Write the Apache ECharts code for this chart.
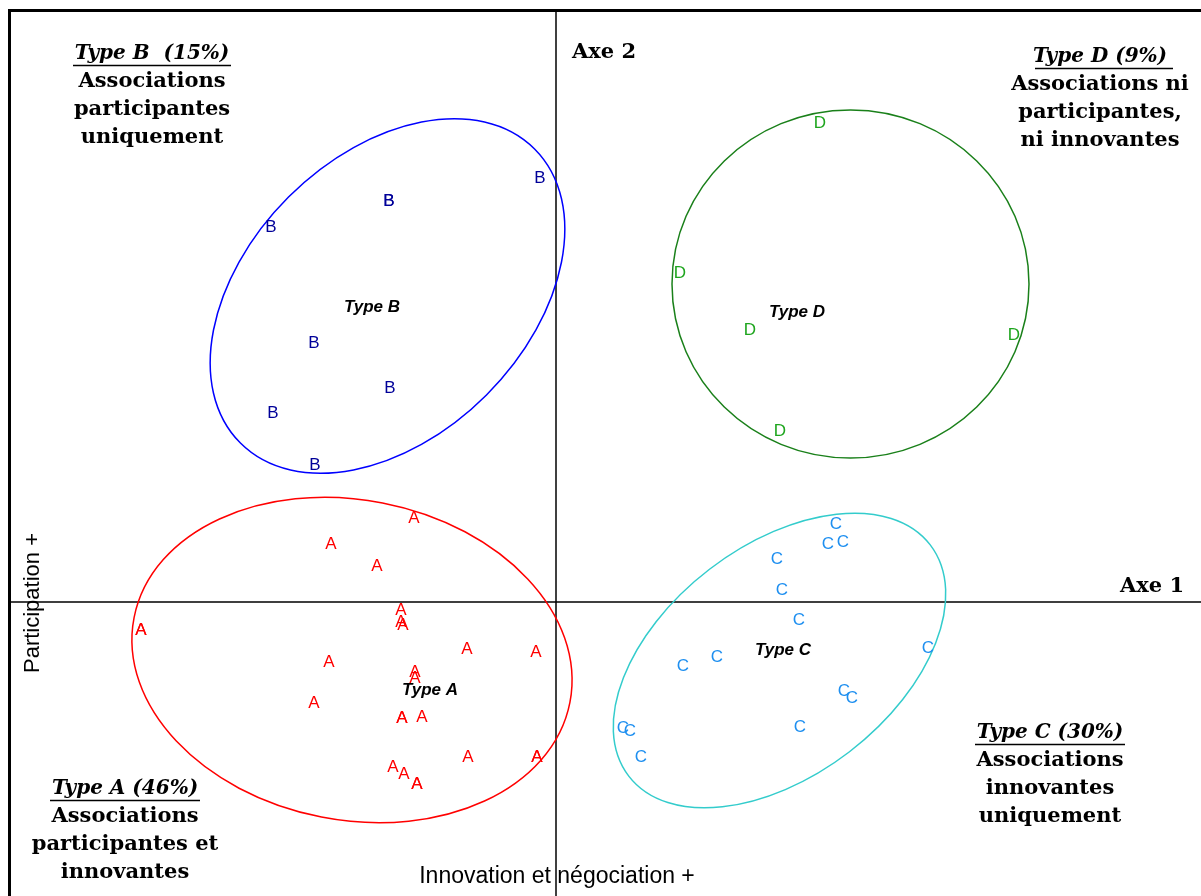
<!DOCTYPE html>
<html>
<head>
<meta charset="utf-8">
<script src="https://cdn.jsdelivr.net/npm/echarts@6/dist/echarts.min.js"></script>
<style>
  html, body { margin: 0; padding: 0; background: #fff; }
  #chart { width: 1201px; height: 896px; }
</style>
</head>
<body>
<div id="chart"></div>
<script>
// coordonnées des associations sur les axes factoriels (Axe 1, Axe 2)
const typeAX = [-1.42, -2.25, -1.79, -1.55, -1.55, -1.53, -4.15, -4.15, -2.27, -0.89, -0.20, -1.41, -1.41, -2.42, -1.54, -1.54, -1.34, -0.88, -0.19, -0.19, -1.63, -1.52, -1.39, -1.39];
const typeAY = [0.84, 0.58, 0.36, -0.08, -0.20, -0.23, -0.28, -0.28, -0.60, -0.47, -0.50, -0.70, -0.76, -1.01, -1.16, -1.16, -1.15, -1.55, -1.55, -1.55, -1.65, -1.72, -1.82, -1.82];

const typeBX = [-0.16, -1.67, -1.67, -2.85, -2.42, -1.66, -2.83, -2.41];
const typeBY = [4.24, 4.01, 4.01, 3.75, 2.59, 2.14, 1.89, 1.37];

const typeCX = [2.80, 2.72, 2.87, 2.21, 2.26, 2.43, 3.72, 1.61, 1.27, 2.88, 2.96, 2.44, 0.67, 0.74, 0.85];
const typeCY = [0.78, 0.58, 0.60, 0.43, 0.12, -0.18, -0.46, -0.55, -0.64, -0.89, -0.96, -1.25, -1.26, -1.29, -1.55];

const typeDX = [2.64, 1.24, 1.94, 4.58, 2.24];
const typeDY = [4.79, 3.29, 2.72, 2.67, 1.71];

// centres des classes
const classNames = ['Type A', 'Type B', 'Type C', 'Type D'];
const classX = [-1.26, -1.84, 2.27, 2.41];
const classY = [-0.88, 2.95, -0.48, 2.90];

// ellipses des classes : centre, demi-axes, angle (degrés)
const ellipseCx = [-2.04, -1.685, 2.235, 2.945];
const ellipseCy = [-0.58, 3.06, -0.585, 3.18];
const ellipseRx = [2.22, 2.08, 1.90, 1.785];
const ellipseRy = [1.60, 1.40, 1.15, 1.74];
const ellipseAngle = [-11, 45, 37.5, 0];

const ellipseColors = ['#ff0000', '#0000ff', '#33cccc', '#1a801a'];

function letterSeries(letter, xs, ys, color) {
  return {
    type: 'scatter',
    name: letter,
    data: xs.map((x, i) => [x, ys[i]]),
    symbolSize: 1,
    itemStyle: { color: 'rgba(0,0,0,0)', opacity: 1 },
    label: {
      show: true,
      position: 'inside',
      formatter: letter,
      color: color,
      opacity: 1,
      textBorderWidth: 0,
      fontFamily: '"Liberation Sans", Arial',
      fontSize: 17
    },
    silent: true,
    z: 3
  };
}

// textes des quadrants
function block(cx, y0, title, lines) {
  const els = [];
  els.push({
    type: 'text', x: cx, y: y0,
    style: { text: title, textAlign: 'center', textVerticalAlign: 'middle',
      font: 'italic bold 20px "DejaVu Serif"', fill: '#000' }
  });
  lines.forEach((t, i) => {
    els.push({
      type: 'text', x: cx, y: y0 + 27.7 * (i + 1),
      style: { text: t, textAlign: 'center', textVerticalAlign: 'middle',
        font: 'bold 21px "DejaVu Serif"', fill: '#000' }
    });
  });
  return els;
}

function line(x1, y1, x2, y2, w) {
  return { type: 'line', shape: { x1: x1, y1: y1, x2: x2, y2: y2 }, style: { stroke: '#000', lineWidth: w } };
}

const chart = echarts.init(document.getElementById('chart'));

chart.setOption({
  animation: false,
  backgroundColor: '#fff',
  grid: { left: 10, top: 10, right: 0, bottom: 0 },
  xAxis: {
    type: 'value', min: -5.46, max: 6.45,
    axisLine: { onZero: true, lineStyle: { color: '#000', width: 1.5 } },
    axisTick: { show: false }, axisLabel: { show: false }, splitLine: { show: false }
  },
  yAxis: {
    type: 'value', min: -2.94, max: 5.92,
    axisLine: { onZero: true, lineStyle: { color: '#000', width: 1.5 } },
    axisTick: { show: false }, axisLabel: { show: false }, splitLine: { show: false }
  },
  graphic: [
    line(8, 10.5, 1201, 10.5, 3),
    line(9.5, 9, 9.5, 896, 3),
    ...block(152, 54, 'Type B  (15%)', ['Associations', 'participantes', 'uniquement']),
    ...block(1100, 57, 'Type D (9%)', ['Associations ni', 'participantes,', 'ni innovantes']),
    ...block(1050, 733, 'Type C (30%)', ['Associations', 'innovantes', 'uniquement']),
    ...block(125, 789, 'Type A (46%)', ['Associations', 'participantes et', 'innovantes']),
    line(73, 65.5, 231, 65.5, 1.5),
    line(1035, 68.5, 1173, 68.5, 1.5),
    line(975, 744.5, 1125, 744.5, 1.5),
    line(50, 800.5, 200, 800.5, 1.5),
    { type: 'text', x: 604, y: 53, style: { text: 'Axe 2', textAlign: 'center', textVerticalAlign: 'middle', font: 'bold 21px "DejaVu Serif"', fill: '#000' } },
    { type: 'text', x: 1152, y: 587, style: { text: 'Axe 1', textAlign: 'center', textVerticalAlign: 'middle', font: 'bold 21px "DejaVu Serif"', fill: '#000' } },
    { type: 'text', x: 557, y: 877, style: { text: 'Innovation et négociation +', textAlign: 'center', textVerticalAlign: 'middle', font: '23px "Liberation Sans", Arial', fill: '#000' } },
    { type: 'text', x: 33, y: 603, rotation: Math.PI / 2, style: { text: 'Participation +', textAlign: 'center', textVerticalAlign: 'middle', font: '22px "Liberation Sans", Arial', fill: '#000' } }
  ],
  series: [
    {
      type: 'custom',
      data: ellipseCx.map((cx, i) => [cx, ellipseCy[i], ellipseRx[i], ellipseRy[i], ellipseAngle[i]]),
      renderItem: function (params, api) {
        const c = api.coord([api.value(0), api.value(1)]);
        const s = api.size([api.value(2), api.value(3)]);
        return {
          type: 'ellipse',
          x: c[0], y: c[1],
          rotation: api.value(4) * Math.PI / 180,
          shape: { cx: 0, cy: 0, rx: s[0], ry: s[1] },
          style: { fill: 'none', stroke: ellipseColors[params.dataIndex], lineWidth: 1.5 }
        };
      },
      silent: true,
      z: 1
    },
    letterSeries('A', typeAX, typeAY, '#ff0000'),
    letterSeries('B', typeBX, typeBY, '#000099'),
    letterSeries('C', typeCX, typeCY, '#1e8ff0'),
    letterSeries('D', typeDX, typeDY, '#1ea51e'),
    {
      type: 'scatter',
      data: classX.map((x, i) => ({ value: [x, classY[i]], name: classNames[i] })),
      symbolSize: 1,
      itemStyle: { color: 'rgba(0,0,0,0)', opacity: 1 },
      label: {
        show: true, position: 'inside', formatter: '{b}',
        color: '#000', opacity: 1, textBorderWidth: 0,
        fontFamily: '"Liberation Sans", Arial',
        fontSize: 17, fontWeight: 'bold', fontStyle: 'italic'
      },
      silent: true,
      z: 4
    }
  ]
});

window.onresize = function () {
  chart.resize();
};
</script>
</body>
</html>
